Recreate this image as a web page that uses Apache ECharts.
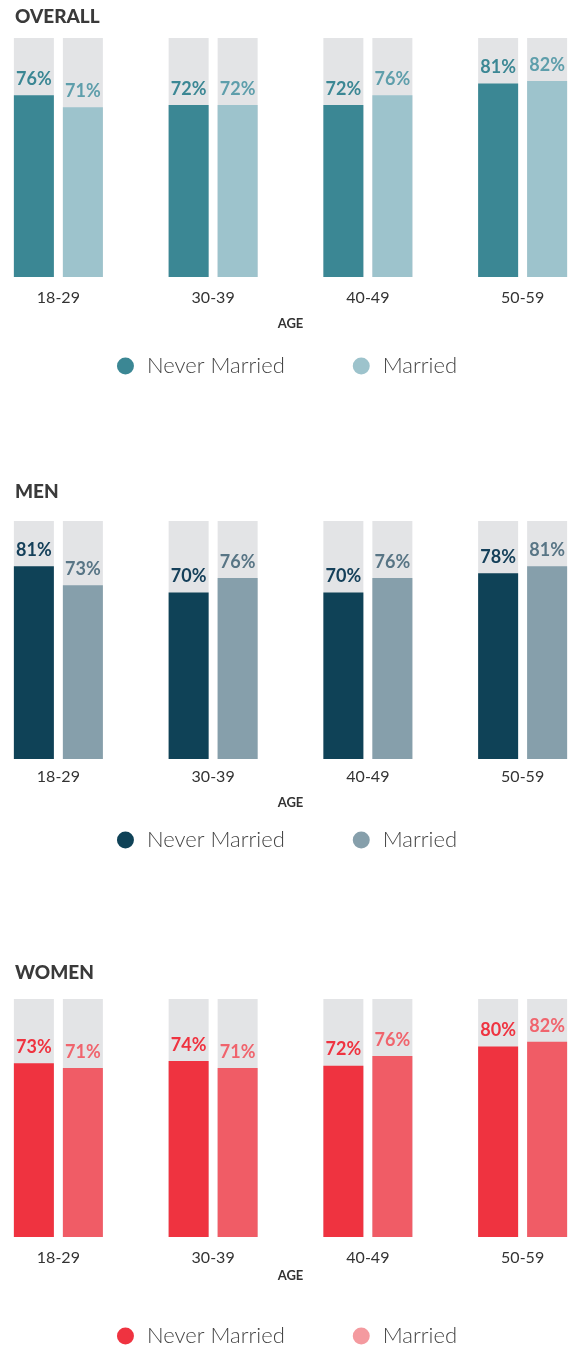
<!DOCTYPE html>
<html>
<head>
<meta charset="utf-8">
<script src="https://cdn.jsdelivr.net/npm/echarts@6/dist/echarts.min.js"></script>
<style>
  html, body { margin: 0; padding: 0; background: #fff; }
</style>
</head>
<body>
<div id="myChart" style="width: 574px; height: 1345px;"></div>
<script>
// data
var categories = ['18-29', '30-39', '40-49', '50-59']
var overallNever = [76, 72, 72, 81]
var overallMarried = [71, 72, 76, 82]
var menNever = [81, 70, 70, 78]
var menMarried = [73, 76, 76, 81]
var womenNever = [73, 74, 72, 80]
var womenMarried = [71, 71, 76, 82]

var FONT = 'Lato, "Open Sans", sans-serif'

// one block per panel: title, grid, axes, legend
var panels = [
  { title: 'OVERALL', titleTop: 7, gridTop: 38, gridH: 239, labelMargin: 13, nameGap: 40, legendTop: 350,
    never: overallNever, married: overallMarried,
    colors: ['#3b8794', '#9dc3cc'], labelColors: ['#3b8794', '#5e9eab'], legendColors: ['#3b8794', '#9dc3cc'] },
  { title: 'MEN', titleTop: 482, gridTop: 521, gridH: 238, labelMargin: 10, nameGap: 37, legendTop: 824,
    never: menNever, married: menMarried,
    colors: ['#0f4257', '#869fab'], labelColors: ['#15405a', '#587585'], legendColors: ['#0f4257', '#869fab'] },
  { title: 'WOMEN', titleTop: 963, gridTop: 999, gridH: 238, labelMargin: 13, nameGap: 32, legendTop: 1320,
    never: womenNever, married: womenMarried,
    colors: ['#ef3340', '#f05c66'], labelColors: ['#ef3340', '#f0646d'], legendColors: ['#ef3340', '#f49a9f'] }
]

var option = {
  animation: false,
  title: [], grid: [], xAxis: [], yAxis: [], legend: [], series: []
}

panels.forEach(function (p, i) {
  option.title.push({
    text: p.title, left: 15, top: p.titleTop, padding: 0,
    textStyle: { fontFamily: FONT, fontSize: 19, fontWeight: 900, color: '#3a3a3a' }
  })
  // grid is wider than the page on purpose: the outer bars sit close to the edges
  option.grid.push({ left: -19, right: -26, top: p.gridTop, height: p.gridH, outerBoundsMode: 'none', containLabel: false })
  option.xAxis.push({
    type: 'category', gridIndex: i, data: categories,
    axisLine: { show: false }, axisTick: { show: false },
    axisLabel: { color: '#333', fontSize: 16, fontFamily: FONT, margin: p.labelMargin },
    name: 'AGE', nameLocation: 'middle', nameGap: p.nameGap, nameMoveOverlap: false,
    nameTextStyle: { color: '#333', fontSize: 13, fontWeight: 'bold', fontFamily: FONT }
  })
  option.yAxis.push({ type: 'value', gridIndex: i, min: 0, max: 100, show: false })
  option.legend.push({
    top: p.legendTop, left: 'center', icon: 'circle', itemWidth: 17, itemHeight: 17, itemGap: 68,
    selectedMode: false,
    textStyle: { fontFamily: FONT, fontSize: 22, fontWeight: 300, color: '#444', padding: [0, 0, 0, 8] },
    data: [
      { name: 'Never Married', itemStyle: { color: p.legendColors[0] } },
      { name: 'Married', itemStyle: { color: p.legendColors[1] } }
    ]
  })
  var sets = [p.never, p.married]
  var names = ['Never Married', 'Married']
  sets.forEach(function (vals, k) {
    option.series.push({
      name: names[k], type: 'bar', xAxisIndex: i, yAxisIndex: i,
      data: vals, barWidth: 40, barGap: '22.5%',
      itemStyle: { color: p.colors[k] },
      showBackground: true,
      backgroundStyle: { color: '#e3e4e6' },
      label: {
        show: true, position: 'top', distance: 7,
        formatter: '{c}%', fontFamily: FONT, fontSize: 18, fontWeight: 'bold',
        color: p.labelColors[k]
      }
    })
  })
})

var chart = echarts.init(document.getElementById('myChart'))
chart.setOption(option)
</script>
</body>
</html>
